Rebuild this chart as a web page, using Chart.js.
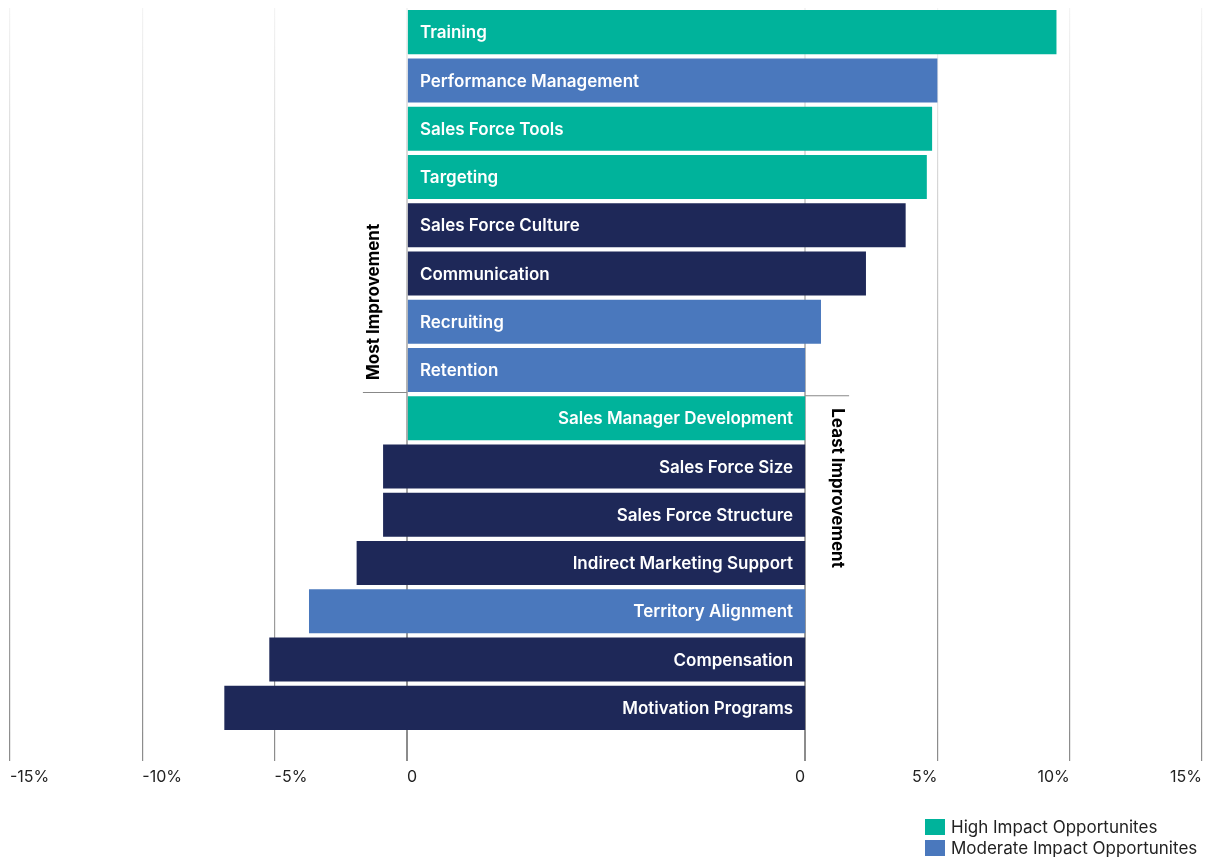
<!DOCTYPE html>
<html>
<head>
<meta charset="utf-8">
<script src="https://cdn.jsdelivr.net/npm/chart.js@4"></script>
<style>
  body { margin: 0; background: #fff; }
  #wrap { position: relative; width: 1205px; height: 857px; }
  #legend { position: absolute; left: 925px; top: 816px; font: 17px Inter, sans-serif; color: #222; }
  #legend div { display: flex; align-items: center; height: 21px; }
  #legend span.box { display: inline-block; width: 20px; height: 16px; margin-right: 6px; }
</style>
</head>
<body>
<div id="wrap">
  <canvas id="improvementChart" width="1205" height="857"></canvas>
  <div id="legend"></div>
</div>
<script>
// Most improvement (positive change)
const mostCategories = ['Training', 'Performance Management', 'Sales Force Tools', 'Targeting',
    'Sales Force Culture', 'Communication', 'Recruiting', 'Retention'];
const mostValues = [9.5, 5.0, 4.8, 4.6, 3.8, 2.3, 0.6, 0.0];
const mostImpact = ['high', 'moderate', 'high', 'high', 'other', 'other', 'moderate', 'moderate'];

// Least improvement (negative change)
const leastCategories = ['Sales Manager Development', 'Sales Force Size', 'Sales Force Structure',
    'Indirect Marketing Support', 'Territory Alignment', 'Compensation', 'Motivation Programs'];
const leastValues = [0.0, -0.9, -0.9, -1.9, -3.7, -5.2, -6.9];
const leastImpact = ['high', 'other', 'other', 'other', 'moderate', 'other', 'other'];

// Tick labels either side of the label band
const leftTicks = [-15, -10, -5, 0];
const leftTickLabels = ['-15%', '-10%', '-5%', '0'];
const rightTicks = [0, 5, 10, 15];
const rightTickLabels = ['0', '5%', '10%', '15%'];

const legendNames = ['High Impact Opportunites', 'Moderate Impact Opportunites'];
const legendKeys = ['high', 'moderate'];

const impactColors = { high: '#00B39B', moderate: '#4A78BD', other: '#1E2858' };

// width of the label band, in % units of the axis
const GAP = 15.05;

Chart.defaults.font.family = 'Inter';

const etiquetas = mostCategories.concat(leastCategories);
const barras = mostValues.map(v => [0, GAP + v]).concat(leastValues.map(v => [GAP, v]));
const colores = mostImpact.concat(leastImpact).map(k => impactColors[k]);

// grid lines fade out towards the top
let gridGradient = null;
function gridColor(ctx) {
    const area = ctx.chart.chartArea;
    if (!area) return '#999';
    if (!gridGradient) {
        gridGradient = ctx.chart.ctx.createLinearGradient(0, area.top, 0, area.bottom + 29);
        gridGradient.addColorStop(0, '#f4f4f4');
        gridGradient.addColorStop(0.5, '#b4b4b4');
        gridGradient.addColorStop(1, '#8c8c8c');
    }
    return gridGradient;
}

const barLabels = {
    id: 'barLabels',
    afterDatasetsDraw(chart) {
        const ctx = chart.ctx;
        const meta = chart.getDatasetMeta(0);
        const xs = chart.scales.x;
        ctx.save();

        // category names inside the bars
        ctx.font = '600 17px Inter';
        ctx.fillStyle = '#fff';
        ctx.textBaseline = 'middle';
        meta.data.forEach((bar, i) => {
            const left = Math.min(bar.x, bar.base);
            const right = Math.max(bar.x, bar.base);
            if (i < mostCategories.length) {
                ctx.textAlign = 'left';
                ctx.fillText(etiquetas[i], left + 12, bar.y + 1);
            } else {
                ctx.textAlign = 'right';
                ctx.fillText(etiquetas[i], right - 12, bar.y + 1);
            }
        });

        // tick labels
        ctx.font = '16px Inter';
        ctx.fillStyle = '#222';
        const ty = chart.chartArea.bottom + 45;
        ctx.textAlign = 'left';
        leftTicks.forEach((v, i) => ctx.fillText(leftTickLabels[i], xs.getPixelForValue(v), ty));
        ctx.textAlign = 'right';
        rightTicks.forEach((v, i) => ctx.fillText(rightTickLabels[i], xs.getPixelForValue(GAP + v), ty));

        // Most / Least Improvement markers
        const lastMost = meta.data[mostCategories.length - 1];
        const firstLeast = meta.data[mostCategories.length];
        const yMost = lastMost.y + lastMost.height / 2;
        const yLeast = firstLeast.y - firstLeast.height / 2;
        const x0 = xs.getPixelForValue(0);
        const x1 = xs.getPixelForValue(GAP);

        ctx.strokeStyle = '#888';
        ctx.lineWidth = 1;
        ctx.beginPath();
        ctx.moveTo(x0 - 44, yMost + 0.5);
        ctx.lineTo(x0, yMost + 0.5);
        ctx.moveTo(x1, yLeast - 0.5);
        ctx.lineTo(x1 + 44, yLeast - 0.5);
        ctx.stroke();

        ctx.font = 'bold 17px Inter';
        ctx.fillStyle = '#000';
        ctx.textAlign = 'left';
        ctx.textBaseline = 'middle';
        ctx.save();
        ctx.translate(x0 - 33, yMost - 12);
        ctx.rotate(-Math.PI / 2);
        ctx.fillText('Most Improvement', 0, 0);
        ctx.restore();
        ctx.save();
        ctx.translate(x1 + 32, yLeast + 12);
        ctx.rotate(Math.PI / 2);
        ctx.fillText('Least Improvement', 0, 0);
        ctx.restore();

        ctx.restore();
    }
};

const chartImprovement = document.getElementById('improvementChart').getContext('2d');
new Chart(chartImprovement, {
    type: 'bar',
    data: {
        labels: etiquetas,
        datasets: [{
            data: barras,
            backgroundColor: colores,
            borderWidth: 0,
            barPercentage: 0.912,
            categoryPercentage: 1
        }]
    },
    options: {
        indexAxis: 'y',
        responsive: false,
        animation: false,
        layout: { padding: { left: 10, right: 3, top: 8, bottom: 96 } },
        plugins: {
            legend: { display: false },
            tooltip: { enabled: false }
        },
        scales: {
            x: {
                min: -15,
                max: GAP + 15,
                afterBuildTicks: scale => {
                    scale.ticks = leftTicks.map(v => ({ value: v }))
                        .concat(rightTicks.map(v => ({ value: GAP + v })));
                },
                grid: {
                    color: gridColor,
                    tickColor: '#8c8c8c',
                    lineWidth: ctx => (ctx.tick && (ctx.tick.value === 0 || ctx.tick.value === GAP)) ? 2 : 1.2,
                    drawTicks: true,
                    tickLength: 29
                },
                ticks: { display: false },
                border: { display: false }
            },
            y: { display: false }
        }
    },
    plugins: [barLabels]
});

// legend
const legendBox = document.getElementById('legend');
legendNames.forEach((name, i) => {
    const row = document.createElement('div');
    const box = document.createElement('span');
    box.className = 'box';
    box.style.background = impactColors[legendKeys[i]];
    row.appendChild(box);
    row.appendChild(document.createTextNode(name));
    legendBox.appendChild(row);
});
</script>
</body>
</html>
